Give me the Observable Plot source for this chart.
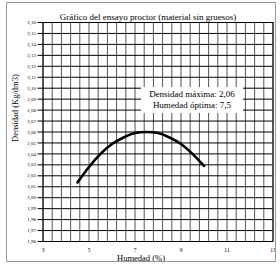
<!DOCTYPE html>
<html><head><meta charset="utf-8">
<script src="https://cdn.jsdelivr.net/npm/d3@7"></script>
<script src="https://cdn.jsdelivr.net/npm/@observablehq/plot@0.6"></script>
<style>
body{margin:0;background:#fff;}
#wrap{position:relative;width:280px;height:265px;font-family:"Liberation Serif",serif;overflow:hidden;}
#border{position:absolute;left:6px;top:2px;width:270px;height:260px;border:1px solid #999;box-sizing:border-box;pointer-events:none;}
#note{position:absolute;left:141px;top:87px;width:102px;height:26px;background:#fff;font-size:9px;line-height:11px;text-align:center;padding-top:2px;box-sizing:border-box;}
</style></head><body><div id="wrap"><div id="border"></div></div>
<script>
const titleText = "Gráfico del ensayo proctor (material sin gruesos)";
const xLabel = "Humedad (%)";
const yLabel = "Densidad (Kg/dm3)";
const humedad = [4.5, 5, 5.5, 6, 6.5, 7, 7.5, 8, 8.5, 9, 9.5, 10];
const densidad = [2.014, 2.028, 2.040, 2.049, 2.055, 2.059, 2.060, 2.059, 2.055, 2.049, 2.040, 2.029];
const xTicks = [3, 5, 7, 9, 11, 13];
const yTicks = [1.96,1.97,1.98,1.99,2.00,2.01,2.02,2.03,2.04,2.05,2.06,2.07,2.08,2.09,2.10,2.11,2.12,2.13,2.14,2.15,2.16];
const densMax = "2,06";
const humOpt = "7,5";

const data = humedad.map((h, i) => ({h, d: densidad[i]}));
const xGrid = d3.range(0, 26).map(i => 3 + i * 0.4);

const chart = Plot.plot({
  width: 280, height: 265,
  marginLeft: 42.5, marginRight: 7.5, marginTop: 22, marginBottom: 24,
  style: {fontFamily: "Liberation Serif, serif", fontSize: "5px", background: "transparent", color: "#000"},
  x: {domain: [3, 13]},
  y: {domain: [1.96, 2.16]},
  marks: [
    Plot.gridX(xGrid, {stroke: "#555", strokeOpacity: 1, strokeWidth: 1}),
    Plot.gridY(yTicks, {stroke: "#000", strokeOpacity: 1, strokeWidth: 1}),
    Plot.frame({stroke: "#000"}),
    Plot.axisY(yTicks, {tickSize: 5, tickPadding: 2, fontSize: 5, label: null, tickFormat: d => d.toFixed(2).replace(".", ",")}),
    Plot.axisX(xTicks, {tickSize: 0, tickPadding: 7, fontSize: 5.5, label: null}),
    Plot.line(data, {x: "h", y: "d", stroke: "#000", strokeWidth: 2.6, curve: "natural"}),
    Plot.text([titleText], {frameAnchor: "top", dx: -10, dy: -9, fontSize: 9, text: d => d}),
    Plot.text([xLabel], {frameAnchor: "bottom", dx: -17, dy: 19, fontSize: 8.5, text: d => d}),
    Plot.text([yLabel], {frameAnchor: "left", rotate: -90, dx: -28, dy: 10, fontSize: 8.5, text: d => d})
  ]
});
const wrap = document.getElementById("wrap");
wrap.insertBefore(chart, wrap.firstChild);
const note = document.createElement("div");
note.id = "note";
note.innerHTML = "Densidad máxima: " + densMax + "<br>Humedad óptima: " + humOpt;
wrap.appendChild(note);
</script>
</body></html>
